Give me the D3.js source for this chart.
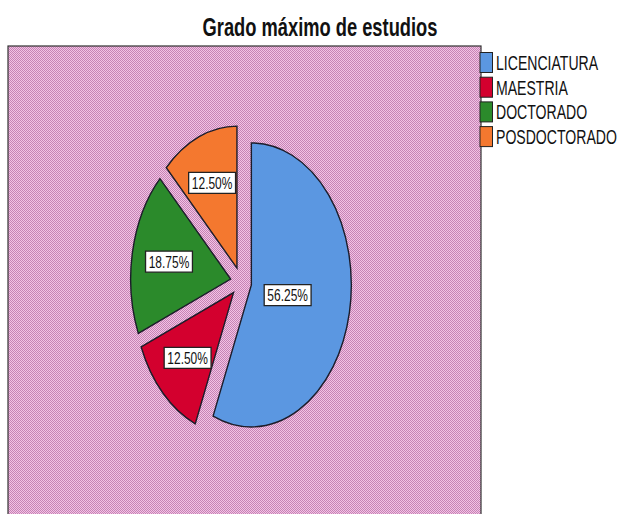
<!DOCTYPE html>
<html>
<head>
<meta charset="utf-8">
<script src="https://cdn.jsdelivr.net/npm/d3@7"></script>
<style>
  body { margin: 0; background: #fff; }
  svg { display: block; font-family: "Liberation Sans", Arial, sans-serif; }
</style>
</head>
<body>
<div id="chartWrap"></div>
<script>
'use strict'
window.addEventListener('DOMContentLoaded', function() {
    //#region data
    const chartTitle = 'Grado máximo de estudios';
    const categories = ['LICENCIATURA', 'MAESTRIA', 'DOCTORADO', 'POSDOCTORADO'];
    const percents = [56.25, 12.50, 18.75, 12.50];
    const colors = ['#5b97e1', '#d3002e', '#2b8a2b', '#f4782f'];
    //#endregion data

    //#region settings
    const svgWidth = 622, svgHeight = 514;
    const squeeze = 0.704;          // the original is squashed horizontally
    const plot = { x: 8, y: 46, w: 473, h: 480 };
    const center = { x: 241, y: 282 };
    const radius = 142;
    const explode = 15;
    //#endregion settings

    const svg = d3.select('#chartWrap')
        .append('svg')
        .attr('width', svgWidth)
        .attr('height', svgHeight);

    // hatch-like pink background
    const pat = svg.append('defs').append('pattern')
        .attr('id', 'pinkHatch')
        .attr('patternUnits', 'userSpaceOnUse')
        .attr('width', 2)
        .attr('height', 2);
    pat.append('rect').attr('width', 2).attr('height', 2).attr('fill', '#f2c2e4');
    pat.append('rect').attr('width', 1).attr('height', 1).attr('fill', '#c683b5');
    pat.append('rect').attr('x', 1).attr('y', 1).attr('width', 1).attr('height', 1).attr('fill', '#c683b5');

    svg.append('rect')
        .attr('x', plot.x)
        .attr('y', plot.y)
        .attr('width', plot.w)
        .attr('height', plot.h)
        .attr('fill', 'url(#pinkHatch)')
        .attr('stroke', '#333')
        .attr('stroke-width', 1.2);

    // title
    svg.append('text')
        .attr('transform', `translate(320, 36) scale(${squeeze},1)`)
        .attr('text-anchor', 'middle')
        .attr('font-size', 26)
        .attr('font-weight', 'bold')
        .attr('fill', '#111')
        .text(chartTitle);

    //#region pie
    const pie = d3.pie().sort(null).value(d => d);
    const arcs = pie(percents);
    const arc = d3.arc().innerRadius(0).outerRadius(radius);

    const pieG = svg.append('g')
        .attr('transform', `translate(${center.x}, ${center.y}) scale(${squeeze},1)`);

    const offset = d => {
        const mid = (d.startAngle + d.endAngle) / 2;
        return [explode * Math.sin(mid), -explode * Math.cos(mid)];
    };

    pieG.selectAll('path')
        .data(arcs)
        .join('path')
        .attr('d', arc)
        .attr('transform', d => `translate(${offset(d)})`)
        .attr('fill', (d, i) => colors[i])
        .attr('stroke', '#1c1c2a')
        .attr('stroke-width', 1.4)
        .attr('vector-effect', 'non-scaling-stroke');

    // labels sit on the centroid of each sector
    const labels = svg.append('g').attr('class', 'labels');
    arcs.forEach((d, i) => {
        const mid = (d.startAngle + d.endAngle) / 2;
        const half = (d.endAngle - d.startAngle) / 2;
        const dist = explode + (2 / 3) * radius * Math.sin(half) / half;
        const x = center.x + squeeze * dist * Math.sin(mid);
        const y = center.y - dist * Math.cos(mid);

        const lg = labels.append('g')
            .attr('transform', `translate(${x}, ${y}) scale(${squeeze},1)`);
        const box = lg.append('rect')
            .attr('fill', '#fff')
            .attr('stroke', '#222')
            .attr('stroke-width', 1.3)
            .attr('vector-effect', 'non-scaling-stroke');
        const t = lg.append('text')
            .attr('text-anchor', 'middle')
            .attr('dy', '0.36em')
            .attr('font-size', 17)
            .attr('fill', '#111')
            .text(percents[i].toFixed(2) + '%');
        const bb = t.node().getBBox();
        box.attr('x', bb.x - 4.5)
            .attr('y', -10.5)
            .attr('width', bb.width + 9)
            .attr('height', 21);
    });
    //#endregion pie

    //#region legend
    const legend = svg.append('g')
        .attr('transform', 'translate(480, 63)');
    const rowH = 24.7;

    const rows = legend.selectAll('g')
        .data(categories)
        .join('g')
        .attr('transform', (d, i) => `translate(0, ${i * rowH})`);

    rows.append('rect')
        .attr('x', 0)
        .attr('y', -10.5)
        .attr('width', 12.5)
        .attr('height', 20)
        .attr('fill', (d, i) => colors[i])
        .attr('stroke', '#222')
        .attr('stroke-width', 1);

    rows.append('text')
        .attr('transform', `translate(16, 7) scale(${squeeze},1)`)
        .attr('font-size', 20)
        .attr('fill', '#111')
        .text(d => d);
    //#endregion legend
});
</script>
</body>
</html>
